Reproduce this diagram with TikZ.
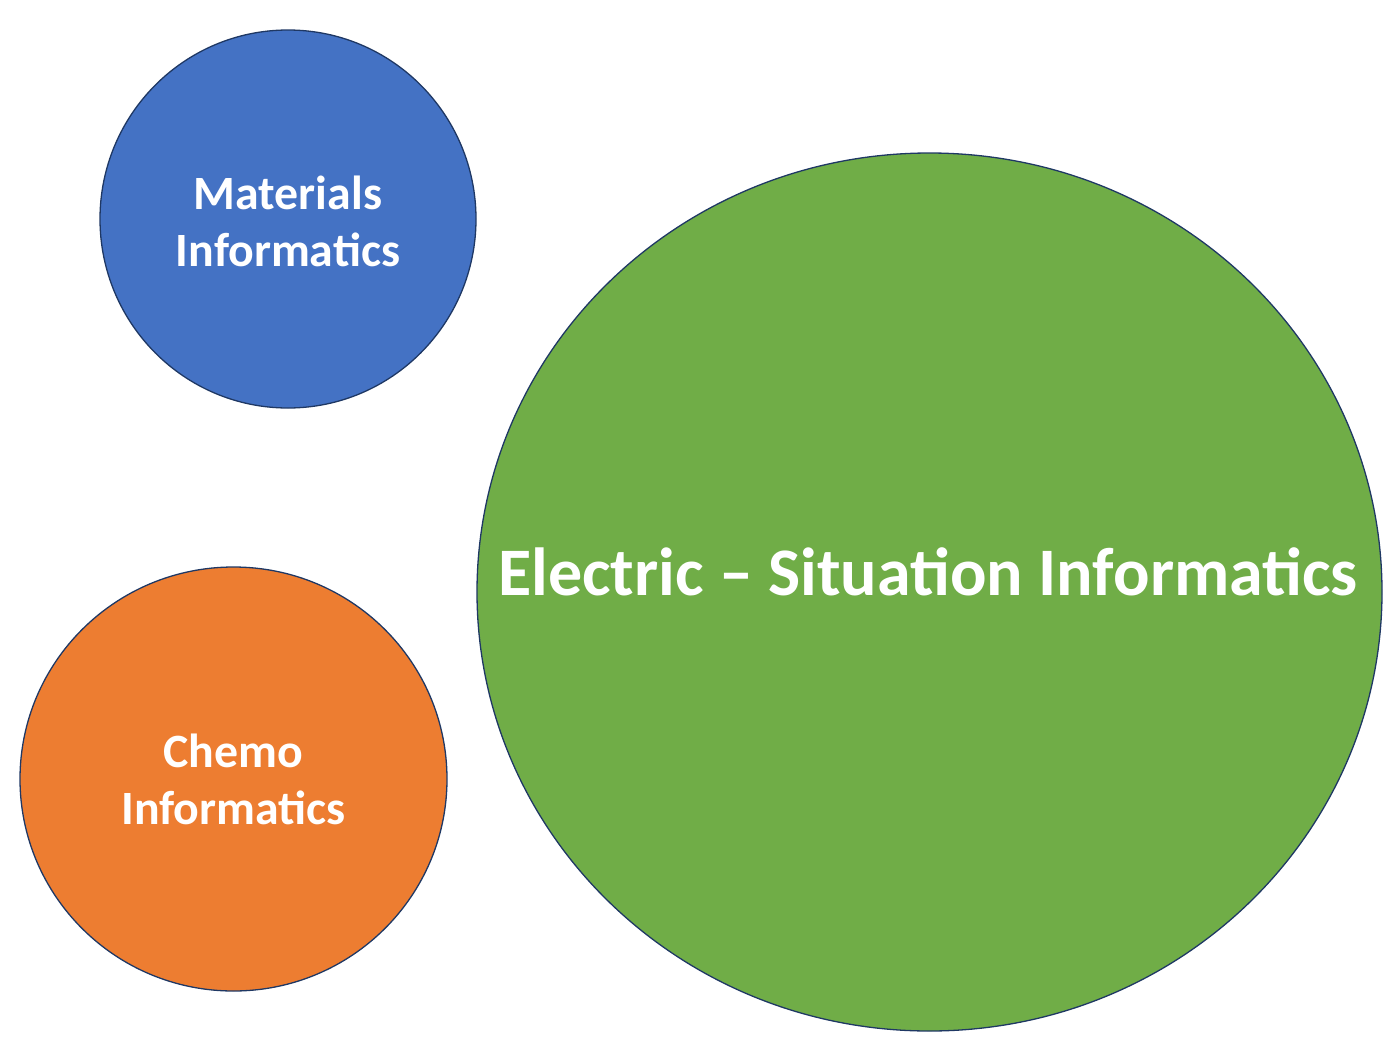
\documentclass[tikz,border=0pt]{standalone}
\usepackage{fontspec}
\setmainfont{Carlito}
\usetikzlibrary{shapes.geometric}
\definecolor{cblue}{HTML}{4472C4}
\definecolor{corange}{HTML}{ED7D31}
\definecolor{cgreen}{HTML}{70AD47}
\definecolor{cline}{HTML}{1F3864}
\begin{document}
\begin{tikzpicture}[x=1pt,y=-1pt,
  bubble/.style={draw=cline, line width=1.3pt},
  lbl/.style={text=white, font=\bfseries\fontsize{47.8}{57}\selectfont, align=center, inner sep=0pt}]
\useasboundingbox (0,0) rectangle (1397,1039);
\draw[bubble, fill=cblue] (288,219) ellipse [x radius=188, y radius=189];
\node[lbl] (mat) at (288,221) {Materials\\Informatics};
\draw[bubble, fill=corange] (233.5,779) ellipse [x radius=213.5, y radius=212];
\node[lbl] (chem) at (233.5,779) {Chemo\\Informatics};
\draw[bubble, fill=cgreen] (929.5,592) ellipse [x radius=452.5, y radius=439];
\node[text=white, font=\bfseries\fontsize{68}{80}\selectfont, inner sep=0pt] (elec) at (928,572) {Electric – Situation Informatics};
\end{tikzpicture}
\end{document}
